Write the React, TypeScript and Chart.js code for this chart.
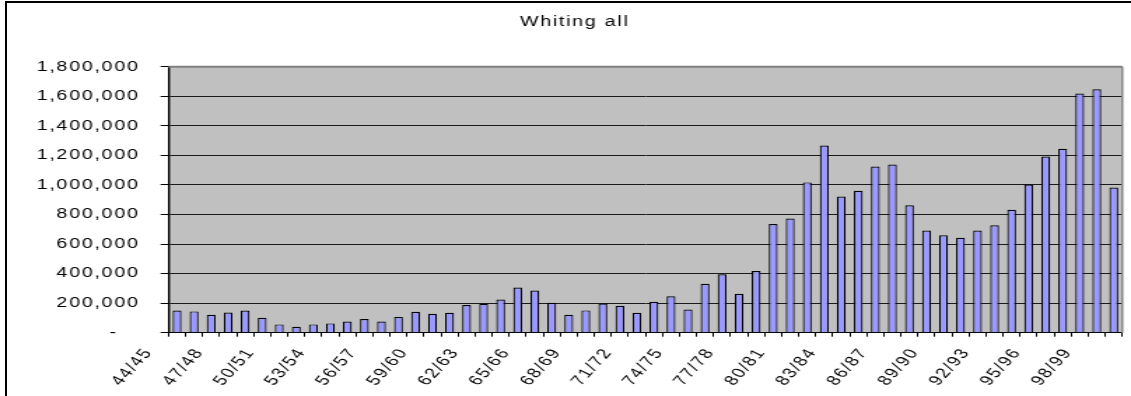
import React, { useEffect, useRef } from 'react';
import { Chart, registerables } from 'chart.js';

Chart.register(...registerables);

const chartTitle = 'Whiting all';

const seasons = [
  '44/45', '45/46', '46/47', '47/48', '48/49', '49/50', '50/51', '51/52',
  '52/53', '53/54', '54/55', '55/56', '56/57', '57/58', '58/59', '59/60',
  '60/61', '61/62', '62/63', '63/64', '64/65', '65/66', '66/67', '67/68',
  '68/69', '69/70', '70/71', '71/72', '72/73', '73/74', '74/75', '75/76',
  '76/77', '77/78', '78/79', '79/80', '80/81', '81/82', '82/83', '83/84',
  '84/85', '85/86', '86/87', '87/88', '88/89', '89/90', '90/91', '91/92',
  '92/93', '93/94', '94/95', '95/96', '96/97', '97/98', '98/99', '99/00',
];

const catchValues = [
  150000, 144000, 121000, 137000, 150000, 101000, 56000, 40000,
  56000, 63000, 76000, 92000, 75000, 107000, 142000, 128000,
  135000, 187000, 196000, 225000, 306000, 286000, 202000, 121000,
  151000, 198000, 182000, 135000, 209000, 247000, 157000, 331000,
  396000, 263000, 418000, 736000, 772000, 1017000, 1267000, 922000,
  961000, 1125000, 1138000, 862000, 691000, 659000, 643000, 691000,
  727000, 832000, 1003000, 1192000, 1244000, 1618000, 1647000, 983000,
];

const yMin = 0;
const yMax = 1800000;
const yStep = 200000;
const labelEvery = 3;

const CANVAS_W = 808;
const CANVAS_H = 396;
const STRETCH = 1131 / CANVAS_W;
const FONT_FAMILY = "'Liberation Sans', Arial, Helvetica, sans-serif";
const LETTER_SPACING = '1.25px';

const letterSpacingPlugin = {
  id: 'letterSpacing',
  beforeUpdate(chart: any) { chart.ctx.letterSpacing = LETTER_SPACING; },
  beforeLayout(chart: any) { chart.ctx.letterSpacing = LETTER_SPACING; },
  beforeDraw(chart: any) { chart.ctx.letterSpacing = LETTER_SPACING; },
};

const plotAreaPlugin = {
  id: 'plotArea',
  beforeDraw(chart: any) {
    const { ctx, chartArea } = chart;
    ctx.save();
    ctx.fillStyle = '#C0C0C0';
    ctx.fillRect(chartArea.left, chartArea.top, chartArea.right - chartArea.left, chartArea.bottom - chartArea.top);
    ctx.restore();
  },
  afterDraw(chart: any) {
    const { ctx, chartArea } = chart;
    ctx.save();
    ctx.strokeStyle = '#808080';
    ctx.lineWidth = 2;
    ctx.beginPath();
    ctx.moveTo(chartArea.left, chartArea.top);
    ctx.lineTo(chartArea.right, chartArea.top);
    ctx.stroke();
    ctx.lineWidth = 1.4;
    ctx.beginPath();
    ctx.moveTo(chartArea.right, chartArea.top);
    ctx.lineTo(chartArea.right, chartArea.bottom);
    ctx.stroke();
    // title
    ctx.letterSpacing = LETTER_SPACING;
    ctx.fillStyle = '#000';
    ctx.font = `14px ${FONT_FAMILY}`;
    ctx.textAlign = 'center';
    ctx.textBaseline = 'middle';
    ctx.fillText(chartTitle, 410.6, 22.5);
    ctx.restore();
  },
};

export default function App() {
  const canvasRef = useRef<HTMLCanvasElement | null>(null);

  useEffect(() => {
    const canvas = canvasRef.current;
    if (!canvas) return;
    const tickFont = { family: FONT_FAMILY, size: 14 };
    const chart = new Chart(canvas, {
      type: 'bar',
      data: {
        labels: seasons,
        datasets: [
          {
            label: chartTitle,
            data: catchValues,
            backgroundColor: '#9999FF',
            borderColor: '#000000',
            borderWidth: 1.2,
            barPercentage: 0.52,
            categoryPercentage: 1,
          },
        ],
      },
      options: {
        animation: false,
        responsive: true,
        maintainAspectRatio: false,
        layout: { padding: { left: 0, right: 6.2, top: 66.7, bottom: 0 } },
        plugins: {
          legend: { display: false },
          tooltip: { enabled: false },
          title: { display: false },
        },
        scales: {
          x: {
            offset: true,
            grid: {
              offset: true,
              drawOnChartArea: false,
              drawTicks: true,
              tickLength: 4,
              color: '#000',
              tickColor: '#000',
            },
            border: { display: true, color: '#000', width: 1 },
            ticks: {
              autoSkip: false,
              maxRotation: 56,
              minRotation: 56,
              labelOffset: -20.5,
              padding: 8.5,
              color: '#000',
              font: tickFont,
              callback: (_v: any, i: number) => (i % labelEvery === 0 ? seasons[i] : ''),
            },
            afterFit: (s: any) => {
              s.height = 63.3;
              s.paddingLeft = 0;
              s.paddingRight = 0;
            },
          },
          y: {
            min: yMin,
            max: yMax,
            ticks: {
              stepSize: yStep,
              padding: 15,
              color: '#000',
              font: tickFont,
              callback: (v: any) => (Number(v) === 0 ? '-   ' : Number(v).toLocaleString('en-US')),
            },
            grid: {
              color: (c: any) => (c.tick && c.tick.value === yMax ? '#808080' : '#1a1a1a'),
              tickColor: '#000',
              tickLength: 5.7,
              lineWidth: 1,
            },
            border: { display: true, color: '#000', width: 1.4 },
            afterFit: (s: any) => {
              s.width = 120.4;
            },
          },
        },
      },
      plugins: [letterSpacingPlugin, plotAreaPlugin],
    });
    return () => chart.destroy();
  }, []);

  return (
    <>
      <div
        style={{
          position: 'absolute',
          left: 5,
          top: 1,
          right: 0,
          bottom: 0,
          height: 395,
          borderLeft: '2px solid #000',
          borderTop: '2px solid #000',
          boxSizing: 'border-box',
        }}
      />
      <div
        style={{
          position: 'absolute',
          left: 0,
          top: 0,
          width: CANVAS_W,
          height: CANVAS_H,
          transform: `scaleX(${STRETCH})`,
          transformOrigin: '0 0',
        }}
      >
        <canvas ref={canvasRef} />
      </div>
    </>
  );
}
